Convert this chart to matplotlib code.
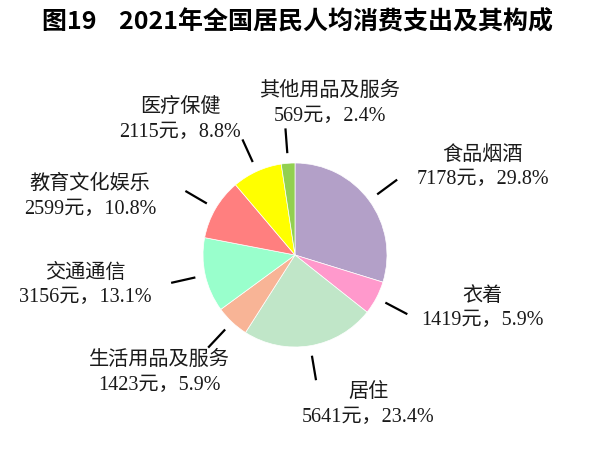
import matplotlib.pyplot as plt
import numpy as np

# 2021 per-capita consumption expenditure by category
categories = ["食品烟酒", "衣着", "居住", "生活用品及服务",
              "交通通信", "教育文化娱乐", "医疗保健", "其他用品及服务"]
amounts = [7178, 1419, 5641, 1423, 3156, 2599, 2115, 569]
shares = [29.8, 5.9, 23.4, 5.9, 13.1, 10.8, 8.8, 2.4]

colors = ["#B3A0C8", "#FF99CC", "#C0E6C8", "#F8B496",
          "#99FFCC", "#FF7F7F", "#FFFF00", "#92D050"]

# label block centres, in pie-radius units
label_pos = [(2.04, 0.95), (2.04, -0.58), (0.80, -1.63), (-1.47, -1.28),
             (-2.28, -0.33), (-2.23, 0.63), (-1.25, 1.47), (0.38, 1.64)]

label_font = ["Liberation Serif", "Noto Sans CJK SC"]

fig = plt.figure(figsize=(6, 4.61), dpi=100)
fig.patch.set_facecolor("white")
ax = fig.add_axes([0, 0, 1, 1])

wedges, _ = ax.pie(shares, colors=colors, startangle=90, counterclock=False,
                   radius=1.0, wedgeprops=dict(edgecolor="white", linewidth=0.5))

ax.set_aspect("auto")
ax.set_xlim(-295 / 92, 305 / 92)
ax.set_ylim(-206 / 92, 255 / 92)
ax.axis("off")

# leader lines and labels
for w, name, amt, pct, pos in zip(wedges, categories, amounts, shares, label_pos):
    mid = np.deg2rad((w.theta1 + w.theta2) / 2)
    c, s = np.cos(mid), np.sin(mid)
    ax.plot([1.11 * c, 1.38 * c], [1.11 * s, 1.38 * s], color="black", lw=1.6,
            solid_capstyle="butt")
    ax.text(pos[0], pos[1], f"{name}\n{amt}元，{pct:.1f}%",
            ha="center", va="center", multialignment="center",
            fontsize=14.5, linespacing=1.4, family=label_font, color="#1a1a1a")

fig.text(297 / 600, 1 - 22 / 461, "图19    2021年全国居民人均消费支出及其构成",
         ha="center", va="center", fontsize=18, fontweight="bold",
         family=["Noto Sans CJK SC", "DejaVu Sans"])

fig.savefig("out.png", dpi=100)
